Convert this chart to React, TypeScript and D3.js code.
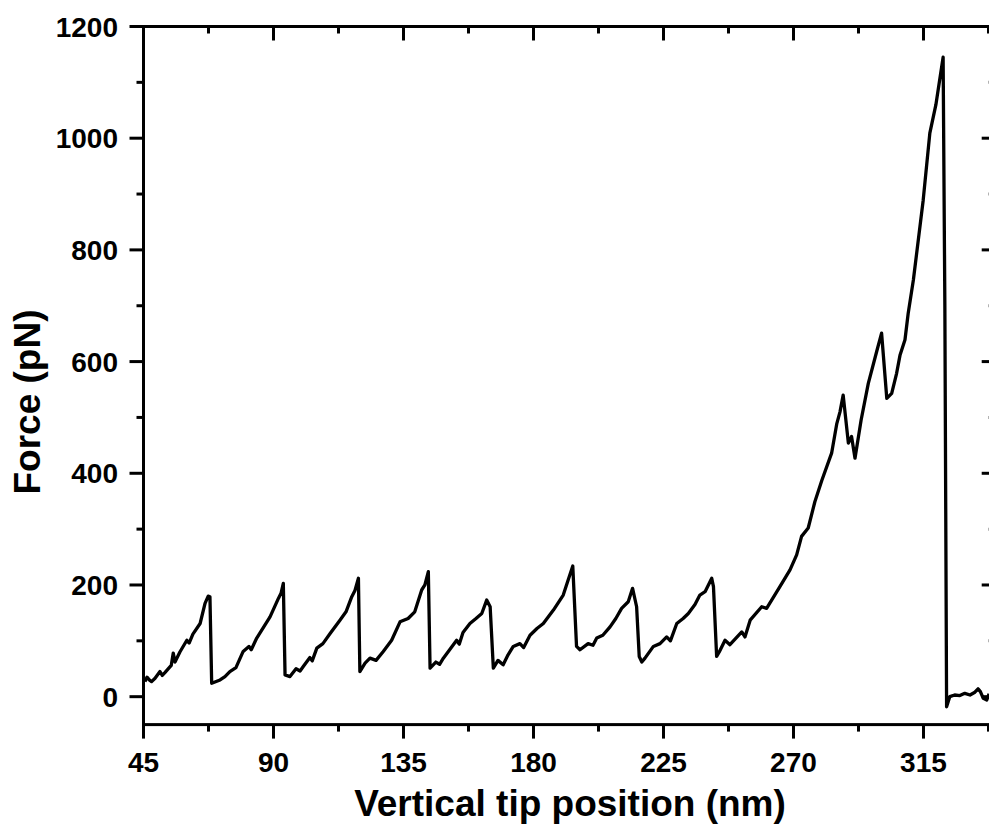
import React from "react";
import * as d3 from "d3";

// Vertical tip position (nm)
const positions: number[] = [
  45.5, 46.2, 47.0, 47.8, 49.0, 50.7, 51.5, 52.4, 54.6, 55.3, 55.9, 57.6, 60.0, 60.8, 62.1, 64.6, 66.3, 67.4, 68.0,
  68.6, 71.5, 73.2, 74.9, 77.0, 79.5, 81.5, 82.3, 84.2, 88.8, 91.7, 92.6, 93.4,
  94.0, 95.7, 97.8, 99.2, 100.3, 102.6, 103.4, 105.0, 107.1, 109.6, 113.0, 115.1, 117.1, 118.2, 119.4,
  119.9, 121.7, 123.4, 125.5, 128.0, 130.9, 133.8, 136.6, 138.9, 141.3, 142.4, 143.6,
  144.2, 146.2, 147.5, 148.8, 151.1, 153.4, 154.3, 155.6, 158.0, 160.1, 162.1, 163.8, 165.0,
  166.1, 167.7, 169.5, 171.2, 173.0, 175.3, 176.6, 178.8, 181.2, 183.4, 186.9, 190.3, 192.0, 193.6,
  194.9, 196.1, 198.9, 200.6, 201.9, 204.0, 206.5, 208.5, 210.5, 212.8, 214.3, 215.7,
  216.6, 217.5, 218.6, 221.5, 223.8, 226.1, 227.4, 229.6, 231.8, 233.6, 235.9, 237.6, 239.4, 241.7, 242.3,
  243.4, 244.3, 246.3, 248.0, 252.1, 253.2, 255.0, 259.0, 260.7, 265.3, 268.8, 271.1, 272.8, 275.1,
  277.4, 279.8, 283.2, 285.0, 286.1, 287.2, 289.0, 290.1, 291.3, 293.4, 295.9, 298.8, 300.5,
  302.3, 304.0, 305.7, 306.9, 308.6, 309.7, 311.5, 314.9, 317.2, 319.3, 321.8,
  322.4, 323.0, 324.1, 325.8, 327.6, 329.3, 331.1, 332.8, 333.9, 334.7, 335.7, 336.9, 337.7,
];

// Force (pN)
const forces: number[] = [
  27, 35, 30, 27, 33, 45, 38, 43, 56, 78, 62, 80, 101, 96, 112, 131, 167, 180, 179,
  24, 30, 36, 45, 52, 81, 90, 84, 105, 143, 176, 185, 203,
  39, 36, 50, 46, 54, 70, 64, 87, 95, 113, 137, 152, 179, 190, 212,
  45, 60, 69, 65, 81, 101, 134, 140, 152, 191, 200, 224,
  51, 62, 58, 69, 85, 101, 94, 115, 131, 140, 149, 173, 161,
  51, 65, 57, 75, 90, 95, 88, 110, 122, 131, 155, 182, 209, 234,
  90, 84, 95, 92, 105, 110, 125, 140, 158, 170, 194, 161,
  72, 62, 69, 90, 95, 107, 100, 131, 140, 149, 165, 182, 188, 212, 197,
  72, 80, 101, 93, 116, 107, 137, 161, 158, 197, 227, 254, 287, 302,
  349, 387, 436, 489, 510, 540, 454, 466, 427, 495, 561, 618, 651,
  534, 543, 579, 612, 639, 686, 746, 889, 1009, 1060, 1145,
  700, -18, 0, 3, 2, 6, 3, 8, 14, 9, -3, -6, 5,
];

const xTicks: number[] = [45, 90, 135, 180, 225, 270, 315];
const xMinor: number[] = [67.5, 112.5, 157.5, 202.5, 247.5, 292.5, 337.5];
const yTicks: number[] = [0, 200, 400, 600, 800, 1000, 1200];
const yMinor: number[] = [100, 300, 500, 700, 900, 1100];

const W = 989;
const H = 827;
const FONT = "'Liberation Sans', Arial, sans-serif";

export default function App() {
  const x = d3.scaleLinear().domain([45, 340]).range([143.5, 995.7]);
  const y = d3.scaleLinear().domain([-50, 1200]).range([724.6, 26.5]);
  const data = positions.map((p, i) => [p, forces[i]] as [number, number]);
  const line = d3
    .line<[number, number]>()
    .x((d) => x(d[0]))
    .y((d) => y(d[1]));

  const x0 = x.range()[0];
  const x1 = x.range()[1];
  const yb = y.range()[0];
  const yt = y.range()[1];
  const major = 14;
  const minor = 7;
  const sw = 3;

  return (
    <svg
      width={W}
      height={H}
      style={{ position: "absolute", left: 0, top: 0, background: "#fff" }}
    >
      <defs>
        <clipPath id="plot">
          <rect x={x0} y={yt} width={x1 - x0} height={yb - yt} />
        </clipPath>
      </defs>
      <rect x={0} y={0} width={W} height={H} fill="#fff" />
      <path
        d={line(data) || ""}
        fill="none"
        stroke="#000"
        strokeWidth={3.3}
        strokeLinejoin="round"
        clipPath="url(#plot)"
      />
      <rect
        x={x0}
        y={yt}
        width={x1 - x0}
        height={yb - yt}
        fill="none"
        stroke="#000"
        strokeWidth={sw}
      />
      {xTicks.map((t) => (
        <g key={"xt" + t}>
          <line x1={x(t)} x2={x(t)} y1={yb} y2={yb + major} stroke="#000" strokeWidth={sw} />
          <line x1={x(t)} x2={x(t)} y1={yt} y2={yt + major} stroke="#000" strokeWidth={sw} />
          <text
            x={x(t)}
            y={772}
            textAnchor="middle"
            fontFamily={FONT}
            fontWeight="bold"
            fontSize={28}
          >
            {t}
          </text>
        </g>
      ))}
      {xMinor.map((t) => (
        <g key={"xm" + t}>
          <line x1={x(t)} x2={x(t)} y1={yb} y2={yb + minor} stroke="#000" strokeWidth={sw} />
          <line x1={x(t)} x2={x(t)} y1={yt} y2={yt + minor} stroke="#000" strokeWidth={sw} />
        </g>
      ))}
      {yTicks.map((t) => (
        <g key={"yt" + t}>
          <line x1={x0 - major} x2={x0} y1={y(t)} y2={y(t)} stroke="#000" strokeWidth={sw} />
          <line x1={x1 - major} x2={x1} y1={y(t)} y2={y(t)} stroke="#000" strokeWidth={sw} />
          <text
            x={118}
            y={y(t) + 10}
            textAnchor="end"
            fontFamily={FONT}
            fontWeight="bold"
            fontSize={28}
          >
            {t}
          </text>
        </g>
      ))}
      {yMinor.map((t) => (
        <g key={"ym" + t}>
          <line x1={x0 - minor} x2={x0} y1={y(t)} y2={y(t)} stroke="#000" strokeWidth={sw} />
          <line x1={x1 - minor} x2={x1} y1={y(t)} y2={y(t)} stroke="#000" strokeWidth={sw} />
        </g>
      ))}
      <text
        x={570}
        y={816}
        textAnchor="middle"
        fontFamily={FONT}
        fontWeight="bold"
        fontSize={37}
      >
        Vertical tip position (nm)
      </text>
      <text
        transform={`translate(40,402) rotate(-90)`}
        textAnchor="middle"
        fontFamily={FONT}
        fontWeight="bold"
        fontSize={37}
      >
        Force (pN)
      </text>
    </svg>
  );
}
